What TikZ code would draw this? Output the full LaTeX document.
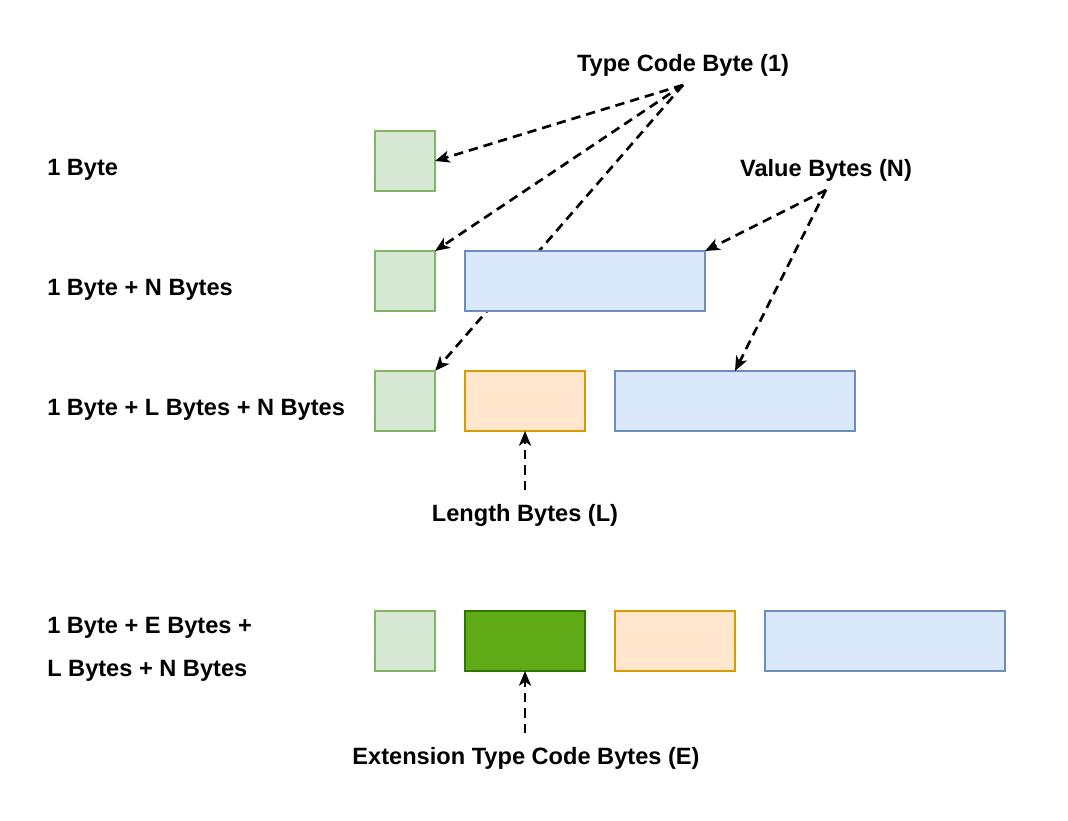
\documentclass[tikz,border=0pt]{standalone}
\usepackage{fontspec}
\setmainfont{Liberation Sans}
\usetikzlibrary{arrows.meta,backgrounds}

\definecolor{typefill}{HTML}{D5E8D4}
\definecolor{typeline}{HTML}{82B366}
\definecolor{valfill}{HTML}{DAE8FC}
\definecolor{valline}{HTML}{6C8EBF}
\definecolor{lenfill}{HTML}{FFE6CC}
\definecolor{lenline}{HTML}{D79B00}
\definecolor{extfill}{HTML}{60A917}
\definecolor{extline}{HTML}{2D7600}

\tikzset{
  cell/.style={draw, line width=2pt, anchor=north west, inner sep=0pt, outer sep=0pt,
    minimum width=45pt, minimum height=45pt},
  typebox/.style={cell, draw=typeline, fill=typefill},
  valbox/.style={cell, draw=valline, fill=valfill, minimum width=180pt},
  lenbox/.style={cell, draw=lenline, fill=lenfill, minimum width=90pt},
  extbox/.style={cell, draw=extline, fill=extfill, minimum width=90pt},
  lbl/.style={font=\fontsize{17.7}{32.5}\selectfont\bfseries, inner sep=0.75pt},
  dasharrow/.style={line width=2pt, dash pattern=on 7pt off 4.5pt,
    -{Stealth[length=11pt,width=9pt,inset=3pt]}}
}

\begin{document}
\begin{tikzpicture}[x=0.75pt,y=0.75pt,yscale=-1,xscale=1]
\useasboundingbox (0,0) rectangle (1068,821);

%Shape: Rectangle (row 1)
\node[typebox] (g1) at (375,131) {};
%Shape: Rectangle (row 2)
\node[typebox] (g2) at (375,251) {};
\node[valbox] (v2) at (465,251) {};
%Shape: Rectangle (row 3)
\node[typebox] (g3) at (375,371) {};
\node[lenbox] (o3) at (465,371) {};
\node[valbox] (v3) at (615,371) {};
%Shape: Rectangle (row 4)
\node[typebox] (g4) at (375,611) {};
\node[extbox] (e4) at (465,611) {};
\node[lenbox] (o4) at (615,611) {};
\node[valbox] (v4) at (765,611) {};

% Text Node
\node[lbl, anchor=west] (row1) at (46,170) {1 Byte};
% Text Node
\node[lbl, anchor=west] (row2) at (46,290) {1 Byte + N Bytes};
% Text Node
\node[lbl, anchor=west] (row3) at (46,410) {1 Byte + L Bytes + N Bytes};
% Text Node
\node[lbl, anchor=west, align=left] (row4) at (46,649) {1 Byte + E Bytes +\\L Bytes + N Bytes};
% Text Node
\node[lbl] (typecode) at (683,65) {Type Code Byte (1)};
% Text Node
\node[lbl] (value) at (826,170) {Value Bytes (N)};
% Text Node
\node[lbl] (length) at (525,515) {Length Bytes (L)};
% Text Node
\node[lbl] (ext) at (526,758) {Extension Type Code Bytes (E)};

\coordinate (typefoot) at (683,85);
\coordinate (valfoot) at (826,190);
\coordinate (lenhead) at (525,490);
\coordinate (exthead) at (525,733);

%Straight Lines
\draw[dasharrow] (typefoot) -- (g1.east);
\draw[dasharrow] (typefoot) -- (g2.north east);
\begin{pgfonlayer}{background}
\draw[dasharrow] (typefoot) -- (g3.north east);
\end{pgfonlayer}
\draw[dasharrow] (valfoot) -- (v2.north east);
\draw[dasharrow] (valfoot) -- (v3.north);
\draw[dasharrow] (lenhead) -- (o3.south);
\draw[dasharrow] (exthead) -- (e4.south);

\end{tikzpicture}
\end{document}
